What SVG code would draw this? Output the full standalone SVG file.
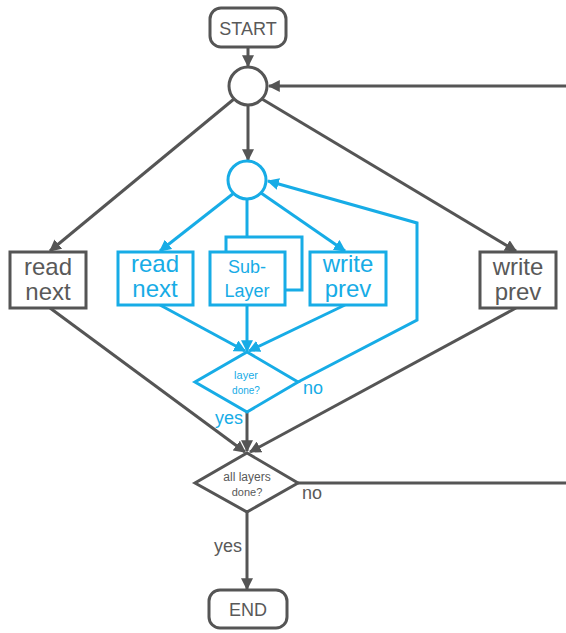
<svg xmlns="http://www.w3.org/2000/svg" width="566" height="633" viewBox="0 0 566 633">
  <style>
    .dk { stroke: #555555; stroke-width: 3; fill: none; }
    .bl { stroke: #17ace6; stroke-width: 3; fill: none; }
    .nodeDk { stroke: #555555; stroke-width: 3; fill: #ffffff; }
    .nodeBl { stroke: #17ace6; stroke-width: 3; fill: #ffffff; }
    text { font-family: "Liberation Sans", Arial, sans-serif; text-anchor: middle; }
    .tDk { fill: #595959; }
    .tBl { fill: #17ace6; }
    .big { font-size: 24px; }
    .lbl { font-size: 18px; }
  </style>
  <defs>
    <marker id="arrDk" viewBox="0 0 10 10" refX="9" refY="5" markerWidth="4" markerHeight="4" orient="auto" markerUnits="strokeWidth">
      <path d="M0,0 L10,5 L0,10 z" fill="#555555"/>
    </marker>
    <marker id="arrBl" viewBox="0 0 10 10" refX="9" refY="5" markerWidth="4" markerHeight="4" orient="auto" markerUnits="strokeWidth">
      <path d="M0,0 L10,5 L0,10 z" fill="#17ace6"/>
    </marker>
  </defs>

  <rect x="0" y="0" width="566" height="633" fill="#ffffff"/>

  <g id="connectors">
    <!-- outer loop -->
    <line class="dk" x1="248" y1="48" x2="248" y2="66" marker-end="url(#arrDk)"/>
    <line class="dk" x1="566" y1="86" x2="269" y2="86" marker-end="url(#arrDk)"/>
    <line class="dk" x1="234" y1="99" x2="50" y2="251" marker-end="url(#arrDk)"/>
    <line class="dk" x1="248" y1="105" x2="248" y2="160" marker-end="url(#arrDk)"/>
    <line class="dk" x1="262" y1="99" x2="516" y2="251" marker-end="url(#arrDk)"/>
    <line class="dk" x1="50" y1="308" x2="245" y2="452" marker-end="url(#arrDk)"/>
    <line class="dk" x1="516" y1="308" x2="250" y2="452" marker-end="url(#arrDk)"/>
    <line class="dk" x1="247" y1="412" x2="247" y2="451" marker-end="url(#arrDk)"/>
    <line class="dk" x1="298" y1="483" x2="566" y2="483"/>
    <line class="dk" x1="247" y1="512" x2="247" y2="589" marker-end="url(#arrDk)"/>

    <!-- inner layer loop -->
    <line class="bl" x1="234" y1="193" x2="160" y2="251" marker-end="url(#arrBl)"/>
    <line class="bl" x1="247" y1="199" x2="247" y2="251" marker-end="url(#arrBl)"/>
    <line class="bl" x1="261" y1="193" x2="345" y2="251" marker-end="url(#arrBl)"/>
    <line class="bl" x1="160" y1="305" x2="245" y2="351" marker-end="url(#arrBl)"/>
    <line class="bl" x1="247" y1="305" x2="247" y2="351" marker-end="url(#arrBl)"/>
    <line class="bl" x1="345" y1="305" x2="249" y2="351" marker-end="url(#arrBl)"/>
    <polyline class="bl" points="298,382 417,320 417,223 268,181" marker-end="url(#arrBl)"/>
  </g>

  <g id="start">
    <rect class="nodeDk" x="210" y="8" width="76" height="39" rx="11"/>
    <text class="tDk" x="248" y="35" font-size="18">START</text>
  </g>

  <g id="outer-join">
    <circle class="nodeDk" cx="248" cy="86" r="19"/>
  </g>

  <g id="outer-read-next">
    <rect class="nodeDk" x="10" y="252" width="76" height="56"/>
    <text class="tDk big" x="48" y="275">read</text>
    <text class="tDk big" x="48" y="300">next</text>
  </g>

  <g id="outer-write-prev">
    <rect class="nodeDk" x="480" y="252" width="76" height="56"/>
    <text class="tDk big" x="518" y="275">write</text>
    <text class="tDk big" x="518" y="300">prev</text>
  </g>

  <g id="inner-join">
    <circle class="nodeBl" cx="247" cy="180" r="19"/>
  </g>

  <g id="inner-read-next">
    <rect class="nodeBl" x="118" y="252" width="75" height="53"/>
    <text class="tBl big" x="155" y="272">read</text>
    <text class="tBl big" x="155" y="297">next</text>
  </g>

  <g id="sub-layer">
    <rect class="nodeBl" x="226" y="237" width="76" height="53"/>
    <rect class="nodeBl" x="210" y="252" width="75" height="53"/>
    <text class="tBl" x="247" y="273" font-size="18">Sub-</text>
    <text class="tBl" x="247" y="297" font-size="18">Layer</text>
  </g>

  <g id="inner-write-prev">
    <rect class="nodeBl" x="310" y="252" width="76" height="53"/>
    <text class="tBl big" x="348" y="272">write</text>
    <text class="tBl big" x="348" y="297">prev</text>
  </g>

  <g id="layer-done">
    <polygon class="nodeBl" points="247,352 298,382 247,412 195,382"/>
    <text class="tBl" x="246" y="379" font-size="11">layer</text>
    <text class="tBl" x="246" y="394" font-size="10">done?</text>
    <text class="tBl lbl" x="313" y="394">no</text>
    <text class="tBl lbl" x="229" y="424">yes</text>
  </g>

  <g id="all-layers-done">
    <polygon class="nodeDk" points="247,453 298,483 247,512 195,483"/>
    <text class="tDk" x="247" y="481" font-size="12">all layers</text>
    <text class="tDk" x="247" y="496" font-size="11">done?</text>
    <text class="tDk lbl" x="312" y="499">no</text>
    <text class="tDk lbl" x="228" y="552">yes</text>
  </g>

  <g id="end">
    <rect class="nodeDk" x="209" y="590" width="78" height="38" rx="11"/>
    <text class="tDk" x="248" y="616" font-size="18">END</text>
  </g>
</svg>
